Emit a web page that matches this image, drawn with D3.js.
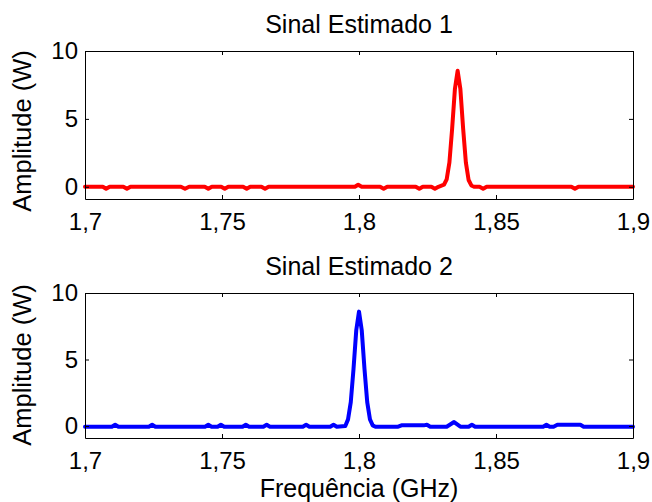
<!DOCTYPE html>
<html>
<head>
<meta charset="utf-8">
<script src="https://cdn.jsdelivr.net/npm/d3@7"></script>
<style>
  body { margin: 0; background: #fff; }
  svg text { font-family: "Liberation Sans", Arial, sans-serif; fill: #000; }
  .axis path, .axis line { stroke: #000; stroke-width: 1px; fill: none; }
</style>
</head>
<body>
<div id="chart"></div>
<script>
// dados
var xTicks = [1.7, 1.75, 1.8, 1.85, 1.9];
var xTickLabels = ["1,7", "1,75", "1,8", "1,85", "1,9"];
var yTicks = [0, 5, 10];
var titles = ["Sinal Estimado 1", "Sinal Estimado 2"];

var freq1 = [1.700, 1.7065, 1.7077, 1.709, 1.714, 1.7153, 1.7166, 1.735, 1.7365, 1.738,
  1.7437, 1.745, 1.7463, 1.7497, 1.751, 1.7523, 1.7577, 1.759, 1.7603, 1.7644, 1.7657, 1.767,
  1.7985, 1.7997, 1.801, 1.8077, 1.809, 1.8103, 1.8207, 1.822, 1.8233, 1.8264, 1.8277, 1.829,
  1.831, 1.832, 1.833, 1.834, 1.835, 1.836, 1.837, 1.838, 1.839, 1.840, 1.841, 1.842,
  1.844, 1.8453, 1.8466, 1.8775, 1.8788, 1.8801, 1.900];
var amp1 = [0, 0, -0.15, 0, 0, -0.15, 0, 0, -0.15, 0,
  0, -0.15, 0, 0, -0.15, 0, 0, -0.15, 0, 0, -0.15, 0,
  0, 0.15, 0, 0, -0.15, 0, 0, -0.15, 0, 0, -0.15, 0,
  0.15, 0.55, 1.8, 4.3, 7.2, 8.55, 7.2, 4.3, 1.8, 0.5, 0.1, 0,
  0, -0.15, 0, 0, -0.15, 0, 0];

var freq2 = [1.700, 1.7098, 1.711, 1.7122, 1.7233, 1.7245, 1.7257, 1.7438, 1.745, 1.7462,
  1.7484, 1.7496, 1.7508, 1.7575, 1.7587, 1.7599, 1.7651, 1.7663, 1.7675, 1.7795, 1.7807, 1.7819,
  1.7895, 1.7907, 1.7919, 1.795, 1.796, 1.797, 1.798, 1.799, 1.800, 1.801, 1.802, 1.803, 1.804, 1.805,
  1.806, 1.8143, 1.8155, 1.8236, 1.8248, 1.826, 1.832, 1.8347, 1.837, 1.840, 1.8412, 1.8424,
  1.8672, 1.8684, 1.8696, 1.871, 1.8724, 1.8808, 1.882, 1.900];
var amp2 = [-0.05, -0.05, 0.1, -0.05, -0.05, 0.1, -0.05, -0.05, 0.1, -0.05,
  -0.05, 0.1, -0.05, -0.05, 0.1, -0.05, -0.05, 0.1, -0.05, -0.05, 0.1, -0.05,
  -0.05, 0.1, -0.05, 0.0, 0.5, 1.8, 4.3, 7.2, 8.6, 7.2, 4.3, 1.8, 0.5, 0.05,
  -0.05, -0.05, 0.05, 0.05, 0.1, -0.05, -0.05, 0.3, -0.05, -0.05, 0.1, -0.05,
  -0.05, 0.1, -0.05, -0.05, 0.1, 0.1, -0.05, -0.05];

var series = [
  { title: titles[0], x: freq1, y: amp1, color: "#ff0000", top: 51, bottom: 199, labelY: 131 },
  { title: titles[1], x: freq2, y: amp2, color: "#0000ff", top: 293, bottom: 438, labelY: 365 }
];

var width = 652, height = 502;
var left = 85, right = 633;

var svg = d3.select("#chart")
  .append("svg")
  .attr("width", width)
  .attr("height", height);

var xScale = d3.scaleLinear().domain([1.7, 1.9]).range([left, right]);

series.forEach(function(s) {
  var yScale = d3.scaleLinear().domain([-0.9, 10]).range([s.bottom, s.top]);
  var g = svg.append("g");

  var pts = s.x.map(function(f, i) { return [f, s.y[i]]; });
  var line = d3.line()
    .x(d => xScale(d[0]))
    .y(d => yScale(d[1]));

  g.append("path")
    .datum(pts)
    .attr("d", line)
    .style("fill", "none")
    .style("stroke", s.color)
    .style("stroke-width", "4px")
    .style("stroke-linejoin", "round")
    .style("stroke-linecap", "round");

  // eixos com ticks para dentro (estilo MATLAB)
  g.append("g")
    .attr("class", "axis")
    .attr("transform", "translate(0," + s.bottom + ")")
    .call(d3.axisBottom(xScale).tickValues(xTicks).tickSizeInner(-4).tickSizeOuter(0).tickPadding(14)
      .tickFormat((d, i) => xTickLabels[i]))
    .selectAll("text").style("font-size", "24px");

  g.append("g")
    .attr("class", "axis")
    .attr("transform", "translate(0," + s.top + ")")
    .call(d3.axisTop(xScale).tickValues(xTicks).tickSizeInner(-4).tickSizeOuter(0).tickFormat(""));

  g.append("g")
    .attr("class", "axis")
    .attr("transform", "translate(" + left + ",0)")
    .call(d3.axisLeft(yScale).tickValues(yTicks).tickSizeInner(-4).tickSizeOuter(0).tickPadding(7))
    .selectAll("text").style("font-size", "24px");

  g.append("g")
    .attr("class", "axis")
    .attr("transform", "translate(" + right + ",0)")
    .call(d3.axisRight(yScale).tickValues(yTicks).tickSizeInner(-4).tickSizeOuter(0).tickFormat(""));

  g.append("text")
    .attr("x", (left + right) / 2)
    .attr("y", s.top - 18)
    .style("text-anchor", "middle")
    .style("font-size", "25px")
    .text(s.title);

  g.append("text")
    .attr("transform", "translate(31," + s.labelY + ") rotate(-90)")
    .style("text-anchor", "middle")
    .style("font-size", "25.5px")
    .text("Amplitude (W)");
});

svg.append("text")
  .attr("x", (left + right) / 2)
  .attr("y", 497)
  .style("text-anchor", "middle")
  .style("font-size", "25px")
  .text("Frequência (GHz)");
</script>
</body>
</html>
